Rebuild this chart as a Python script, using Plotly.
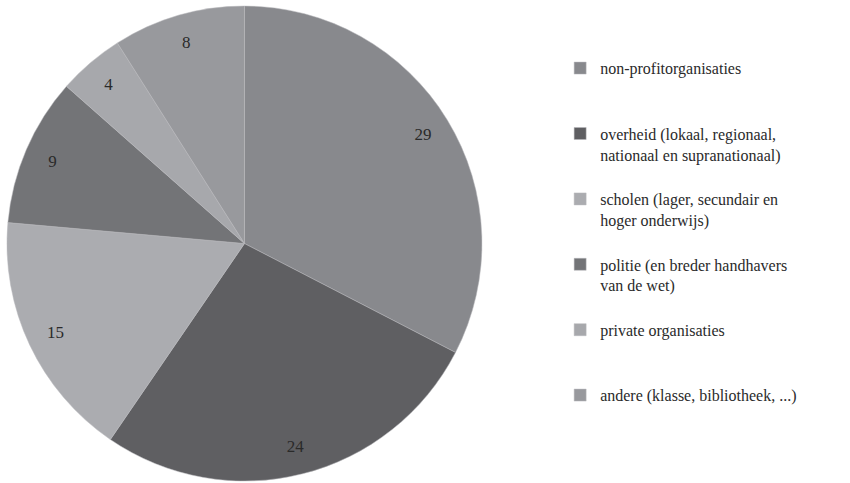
import plotly.graph_objects as go

# slices, clockwise from the top
labels = [
    "non-profitorganisaties",
    "overheid (lokaal, regionaal,<br>nationaal en supranationaal)",
    "scholen (lager, secundair en<br>hoger onderwijs)",
    "politie (en breder handhavers<br>van de wet)",
    "private organisaties",
    "andere (klasse, bibliotheek, ...)",
]
values = [29, 24, 15, 9, 4, 8]
colors = ["#88898d", "#5f5f62", "#abacb0", "#737477", "#a7a8ac", "#98999d"]

SERIF = "Liberation Serif, DejaVu Serif, Times New Roman, serif"
pie_domain = dict(x=[0.0082, 0.567], y=[0.004, 0.9876])

# pad every legend entry to three lines so the entries are spaced out
legend_labels = [lab + "<br> " * (2 - lab.count("<br>")) for lab in labels]

fig = go.Figure()
fig.add_trace(
    go.Pie(
        labels=legend_labels,
        values=values,
        sort=False,
        direction="clockwise",
        rotation=0,
        marker=dict(colors=colors, line=dict(color="#b8b9bc", width=0.5)),
        textinfo="none",
        domain=pie_domain,
        hoverinfo="value",
    )
)
# transparent ring on top, only to put the numbers near the rim
fig.add_trace(
    go.Pie(
        labels=legend_labels,
        values=values,
        sort=False,
        direction="clockwise",
        rotation=0,
        hole=0.76,
        marker=dict(colors=["rgba(0,0,0,0)"] * len(values), line=dict(width=0)),
        textinfo="value",
        textposition="inside",
        insidetextorientation="horizontal",
        textfont=dict(family=SERIF, size=17, color="#2a2a2a"),
        domain=pie_domain,
        showlegend=False,
        hoverinfo="skip",
    )
)

fig.update_layout(
    width=850,
    height=483,
    margin=dict(l=0, r=0, t=0, b=0),
    paper_bgcolor="white",
    plot_bgcolor="white",
    font=dict(family=SERIF, size=16, color="#2a2a2a"),
    legend=dict(
        x=0.659,
        y=0.894,
        xanchor="left",
        yanchor="top",
        valign="top",
        itemwidth=30,
        font=dict(family=SERIF, size=16, color="#2a2a2a"),
    ),
)

fig.write_html(
    "out.html",
    config={"displayModeBar": False},
    post_script="document.body.style.margin='0';",
)
